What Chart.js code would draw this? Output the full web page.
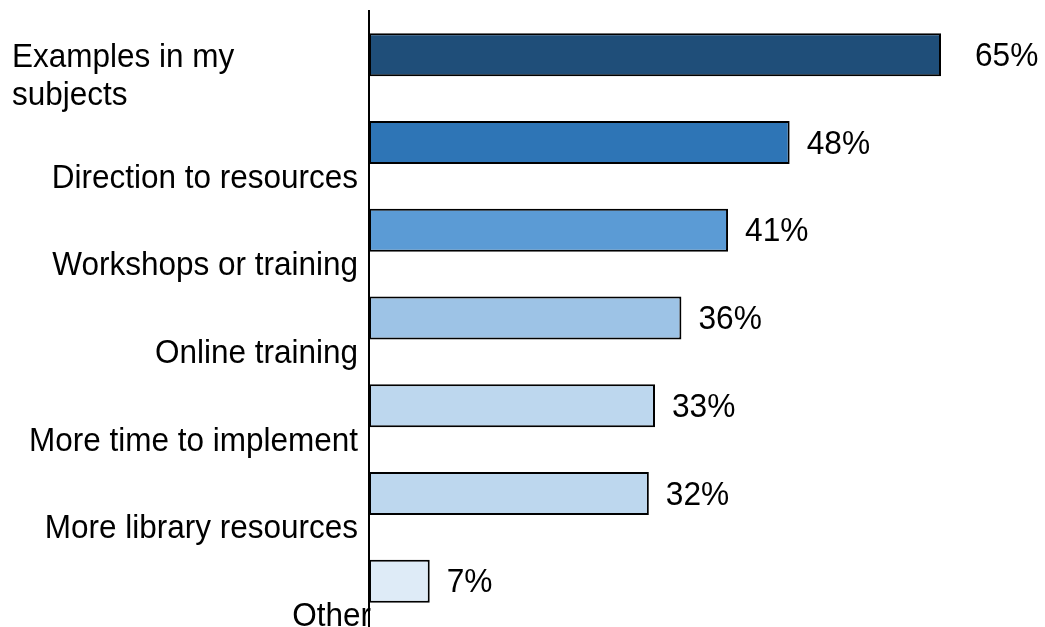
<!DOCTYPE html>
<html>
<head>
<meta charset="utf-8">
<script src="https://cdn.jsdelivr.net/npm/chart.js@4/dist/chart.umd.min.js"></script>
<style>
  html, body { margin: 0; padding: 0; background: #fff; }
  #wrap { width: 1045px; height: 627px; }
</style>
</head>
<body>
<div id="wrap"><canvas id="chart"></canvas></div>
<script>
// data
const categories = [
  ['Examples in my', 'subjects'],
  'Direction to resources',
  'Workshops or training',
  'Online training',
  'More time to implement',
  'More library resources',
  'Other'
];
const values = [65, 47.8, 40.8, 35.5, 32.5, 31.8, 6.9];
const valueLabels = ['65%', '48%', '41%', '36%', '33%', '32%', '7%'];
const barColors = ['#1F4E79', '#2E75B6', '#5B9BD5', '#9DC3E6', '#BDD7EE', '#BDD7EE', '#DEEBF7'];

const FONT = '"Liberation Sans", Arial, sans-serif';

// slightly condensed text, like the original
function squeezedText(ctx, text, x, y, sx) {
  ctx.save();
  ctx.translate(x, y);
  ctx.scale(sx, 1);
  ctx.fillText(text, 0, 0);
  ctx.restore();
}

// labels sit below the bars in the original, drawn by hand here
const labelPlugin = {
  id: 'labelPlugin',
  afterDraw(chart) {
    const ctx = chart.ctx;
    const xs = chart.scales.x;
    const ys = chart.scales.y;
    const x0 = xs.getPixelForValue(0);

    ctx.save();
    // axis line
    ctx.strokeStyle = '#000';
    ctx.lineWidth = 2;
    ctx.beginPath();
    ctx.moveTo(x0, 10);
    ctx.lineTo(x0, 627);
    ctx.stroke();

    ctx.fillStyle = '#000';
    categories.forEach((cat, i) => {
      const cy = ys.getPixelForValue(i);
      ctx.textBaseline = 'alphabetic';
      ctx.font = '33.5px ' + FONT;
      if (Array.isArray(cat)) {
        ctx.textAlign = 'left';
        squeezedText(ctx, cat[0], 12, cy + 12, 0.94);
        squeezedText(ctx, cat[1], 12, cy + 50, 0.94);
      } else {
        ctx.textAlign = 'right';
        const rx = (i === categories.length - 1) ? x0 + 2 : x0 - 11;
        squeezedText(ctx, cat, rx, cy + 45, 0.94);
      }

      // value labels
      ctx.font = '33px ' + FONT;
      ctx.textAlign = 'left';
      ctx.textBaseline = 'middle';
      const gap = i === 0 ? 34 : 17;
      squeezedText(ctx, valueLabels[i], xs.getPixelForValue(values[i]) + gap, cy + 2, 0.96);
    });
    ctx.restore();
  }
};

const ctx = document.getElementById('chart').getContext('2d');
new Chart(ctx, {
  type: 'bar',
  data: {
    labels: categories,
    datasets: [{
      data: values,
      backgroundColor: barColors,
      borderColor: '#000',
      borderWidth: 2,
      borderSkipped: false,
      categoryPercentage: 1,
      barPercentage: 0.49
    }]
  },
  options: {
    indexAxis: 'y',
    responsive: true,
    maintainAspectRatio: false,
    animation: false,
    layout: { padding: { left: 369, right: 16, top: 11, bottom: 2 } },
    plugins: {
      legend: { display: false },
      tooltip: { enabled: false }
    },
    scales: {
      x: { display: false, min: 0, max: 75 },
      y: { display: false }
    }
  },
  plugins: [labelPlugin]
});
</script>
</body>
</html>
